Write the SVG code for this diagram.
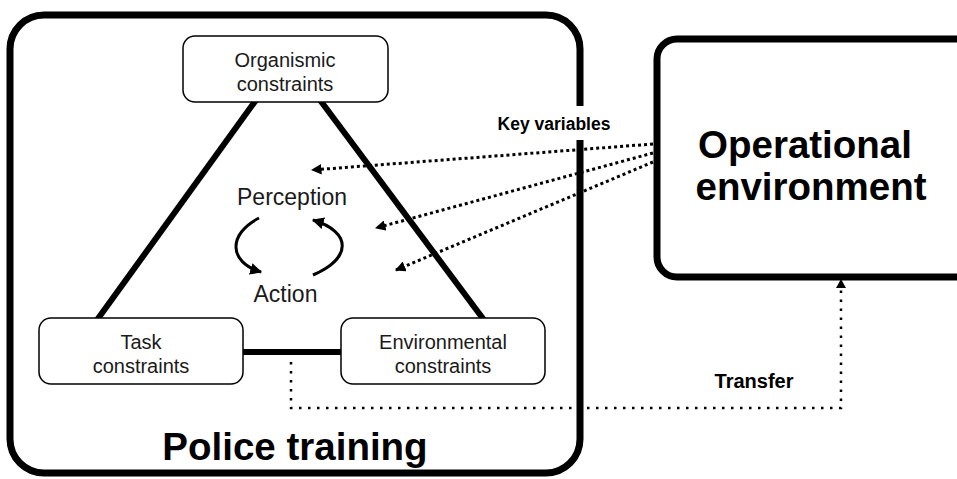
<svg xmlns="http://www.w3.org/2000/svg" width="957" height="479" viewBox="0 0 957 479">
<defs>
<marker id="ah" viewBox="0 0 10 10" refX="9" refY="5" markerWidth="4" markerHeight="4" orient="auto" markerUnits="strokeWidth"><path d="M0,0 L10,5 L0,10 z" fill="#000"/></marker>
<marker id="ah2" viewBox="0 0 10 10" refX="9" refY="5" markerWidth="3.5" markerHeight="3.5" orient="auto" markerUnits="strokeWidth"><path d="M0,0 L10,5 L0,10 z" fill="#000"/></marker>
</defs>
<style>
.big{fill:none;stroke:#000;stroke-width:7}
.box{fill:#fff;stroke:#000;stroke-width:1.5}
.t{font-family:"Liberation Sans",Arial,sans-serif;font-size:20px;fill:#1a1a1a;text-anchor:middle}
.pa{font-size:23px}
.b{font-family:"Liberation Sans",Arial,sans-serif;font-weight:bold;fill:#000;text-anchor:middle}
.thick{stroke:#000;stroke-width:6;fill:none}
.dot{stroke:#000;stroke-width:3;stroke-dasharray:3 3;fill:none}
.dot2{stroke:#000;stroke-width:2.5;stroke-dasharray:2.5 6.5;fill:none}
</style>
<rect width="957" height="479" fill="#fff"/>
<g id="police-training">
<rect class="big" x="10" y="15" width="570" height="458" rx="34"/>
<rect x="495" y="106" width="120" height="34" fill="#fff"/>
<text class="b" x="295" y="460" font-size="38.5">Police training</text>
</g>
<g id="operational-environment">
<rect class="big" x="657" y="39" width="330" height="238" rx="20"/>
<text class="b" x="805" y="158" font-size="38.5">Operational</text>
<text class="b" x="811" y="200" font-size="38.5">environment</text>
</g>
<g id="connectors">
<line class="thick" x1="256" y1="100" x2="97" y2="320"/>
<line class="thick" x1="320" y1="100" x2="484" y2="320"/>
<line class="thick" x1="243" y1="352" x2="341" y2="352"/>
<path d="M259,218 C228,234 228,262 261,272" stroke="#000" stroke-width="3" fill="none" marker-end="url(#ah)"/>
<path d="M313,275 C352,258 352,232 313,220" stroke="#000" stroke-width="3" fill="none" marker-end="url(#ah)"/>
<line class="dot" x1="653" y1="144" x2="312" y2="170" marker-end="url(#ah2)"/>
<line class="dot" x1="653" y1="153" x2="376" y2="228" marker-end="url(#ah2)"/>
<line class="dot" x1="653" y1="162" x2="396" y2="270" marker-end="url(#ah2)"/>
<polyline class="dot2" points="291,362 291,408 841,408 841,286"/>
<path d="M836,288 L841,279 L846,288 z" fill="#000"/>
</g>
<g id="organismic">
<rect class="box" x="183" y="36" width="205" height="66" rx="12"/>
<text class="t" x="285" y="67">Organismic</text>
<text class="t" x="285" y="91">constraints</text>
</g>
<g id="task">
<rect class="box" x="39" y="318" width="204" height="66" rx="12"/>
<text class="t" x="141" y="349">Task</text>
<text class="t" x="141" y="373">constraints</text>
</g>
<g id="environmental">
<rect class="box" x="341" y="318" width="204" height="66" rx="12"/>
<text class="t" x="443" y="349">Environmental</text>
<text class="t" x="443" y="373">constraints</text>
</g>
<g id="labels">
<text class="t pa" x="292" y="205">Perception</text>
<text class="t pa" x="285.5" y="302">Action</text>
<text class="b" x="554" y="130" font-size="17.5">Key variables</text>
<text class="b" x="754" y="388" font-size="20">Transfer</text>
</g>
</svg>
